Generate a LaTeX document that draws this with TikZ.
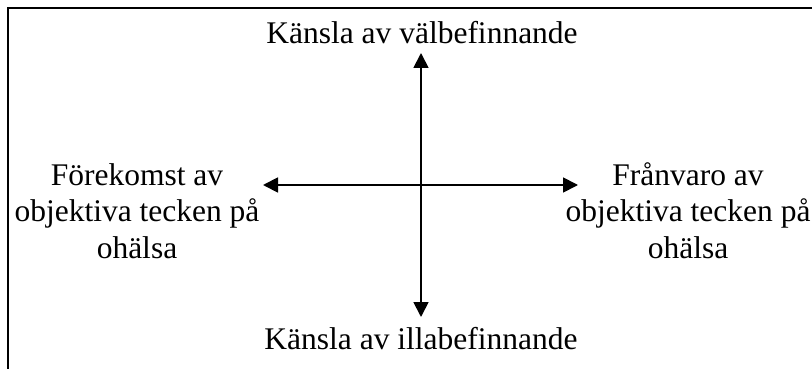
\documentclass[tikz,border=0pt]{standalone}
\usepackage{fontspec}
\setmainfont{Liberation Serif}
\usetikzlibrary{arrows.meta}

\begin{document}
\begin{tikzpicture}[x=1pt,y=-1pt,
  lbl/.style={anchor=base,inner sep=0pt,align=center,font=\fontsize{31.5}{36.5}\selectfont},
  axis/.style={line width=1.8pt,{Triangle[length=15pt,width=15pt]}-{Triangle[length=15pt,width=15pt]}}]
\path[use as bounding box] (0,0) rectangle (812,369);
\clip (0,0) rectangle (812,369);
\draw[line width=2pt] (8,369) -- (8,8) -- (812,8);
\node[lbl] (wellbeing) at (422,43.5) {Känsla av välbefinnande};
\node[lbl] (illbeing) at (421,349) {Känsla av illabefinnande};
% base of a multi-line node is its last line
\node[lbl] (presence) at (137,258) {Förekomst av\\objektiva tecken på\\ohälsa};
\node[lbl] (absence) at (688,258) {Frånvaro av\\objektiva tecken på\\ohälsa};
\coordinate (north) at (421,53);
\coordinate (south) at (421,317);
\coordinate (west) at (263,185);
\coordinate (east) at (578,185);
\draw[axis] (north) -- (south);
\draw[axis] (west) -- (east);
\end{tikzpicture}
\end{document}
